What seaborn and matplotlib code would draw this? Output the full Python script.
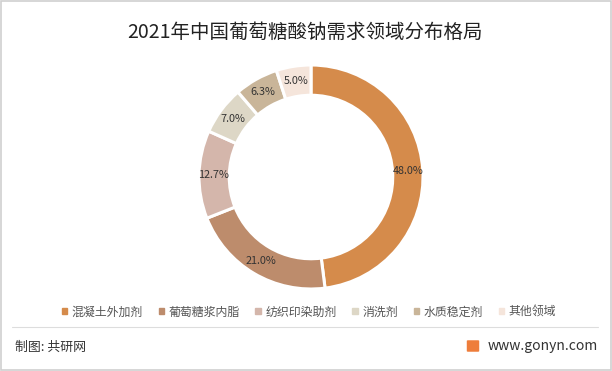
import matplotlib
matplotlib.use("Agg")
import matplotlib.pyplot as plt
from matplotlib.patches import Rectangle, FancyBboxPatch
import seaborn as sns
import numpy as np

sns.set_theme(style="white")
plt.rcParams['font.family'] = ['Noto Sans CJK SC', 'DejaVu Sans']

categories = ["混凝土外加剂", "葡萄糖浆内脂", "纺织印染助剂", "消洗剂", "水质稳定剂", "其他领域"]
values = [48.0, 21.0, 12.7, 7.0, 6.3, 5.0]
labels = ["48.0%", "21.0%", "12.7%", "7.0%", "6.3%", "5.0%"]
colors = ["#D58B4B", "#BD8C6C", "#D4B6AB", "#DDD7C6", "#C9B599", "#F5E5DB"]

W, H = 612, 371
fig = plt.figure(figsize=(W / 100, H / 100), dpi=100)
fig.patch.set_facecolor("white")

# pie axes: center (311,177), radius 112
cx, cy, r = 311, 177, 112
ax = fig.add_axes([(cx - r) / W, 1 - (cy + r) / H, 2 * r / W, 2 * r / H])
wedges, _ = ax.pie(values, colors=colors, startangle=90, counterclock=False,
                   radius=1.0,
                   wedgeprops=dict(width=0.27, edgecolor="white", linewidth=2.2))
ang = 90
for v, lab in zip(values, labels):
    mid = ang - v / 100 * 360 / 2
    ang -= v / 100 * 360
    rr = 0.87
    ax.text(rr * np.cos(np.radians(mid)), rr * np.sin(np.radians(mid)), lab,
            ha="center", va="center", fontsize=7.8, color="#333333")
ax.set_xlim(-1, 1)
ax.set_ylim(-1, 1)
ax.set_aspect("equal")
ax.axis("off")

# title
fig.text(305 / W, 1 - 32 / H, "2021年中国葡萄糖酸钠需求领域分布格局",
         ha="center", va="center", fontsize=14, color="#222222")

# legend
handles = [Rectangle((0, 0), 1, 1, color=c) for c in colors]
leg = fig.legend(handles, categories, loc="center", bbox_to_anchor=(309 / W, 1 - 312 / H),
                 ncol=6, frameon=False, fontsize=8.6, handlelength=0.45, handleheight=0.45,
                 handletextpad=0.4, columnspacing=1.3, labelcolor="#555555")

# frame border
fig.patches.append(Rectangle((1 / W, 1 / H), (W - 2) / W, (H - 2) / H, transform=fig.transFigure,
                             fill=False, edgecolor="#CFCFCF", linewidth=1.2))
# footer line
fig.add_artist(plt.Line2D([12 / W, 598 / W], [1 - 327 / H, 1 - 327 / H], color="#DDDDDD", linewidth=0.8))
fig.text(15 / W, 1 - 347 / H, "制图: 共研网", ha="left", va="center", fontsize=9.3, color="#333333")
fig.text(598 / W, 1 - 346 / H, "www.gonyn.com", ha="right", va="center", fontsize=10, color="#333333")
fig.patches.append(FancyBboxPatch((468 / W, 1 - 351 / H), 10 / W, 10 / H, transform=fig.transFigure,
                                  boxstyle="round,pad=0.002", facecolor="#EE7D3B", edgecolor="none"))

fig.savefig("out.png", dpi=100, facecolor="white")
